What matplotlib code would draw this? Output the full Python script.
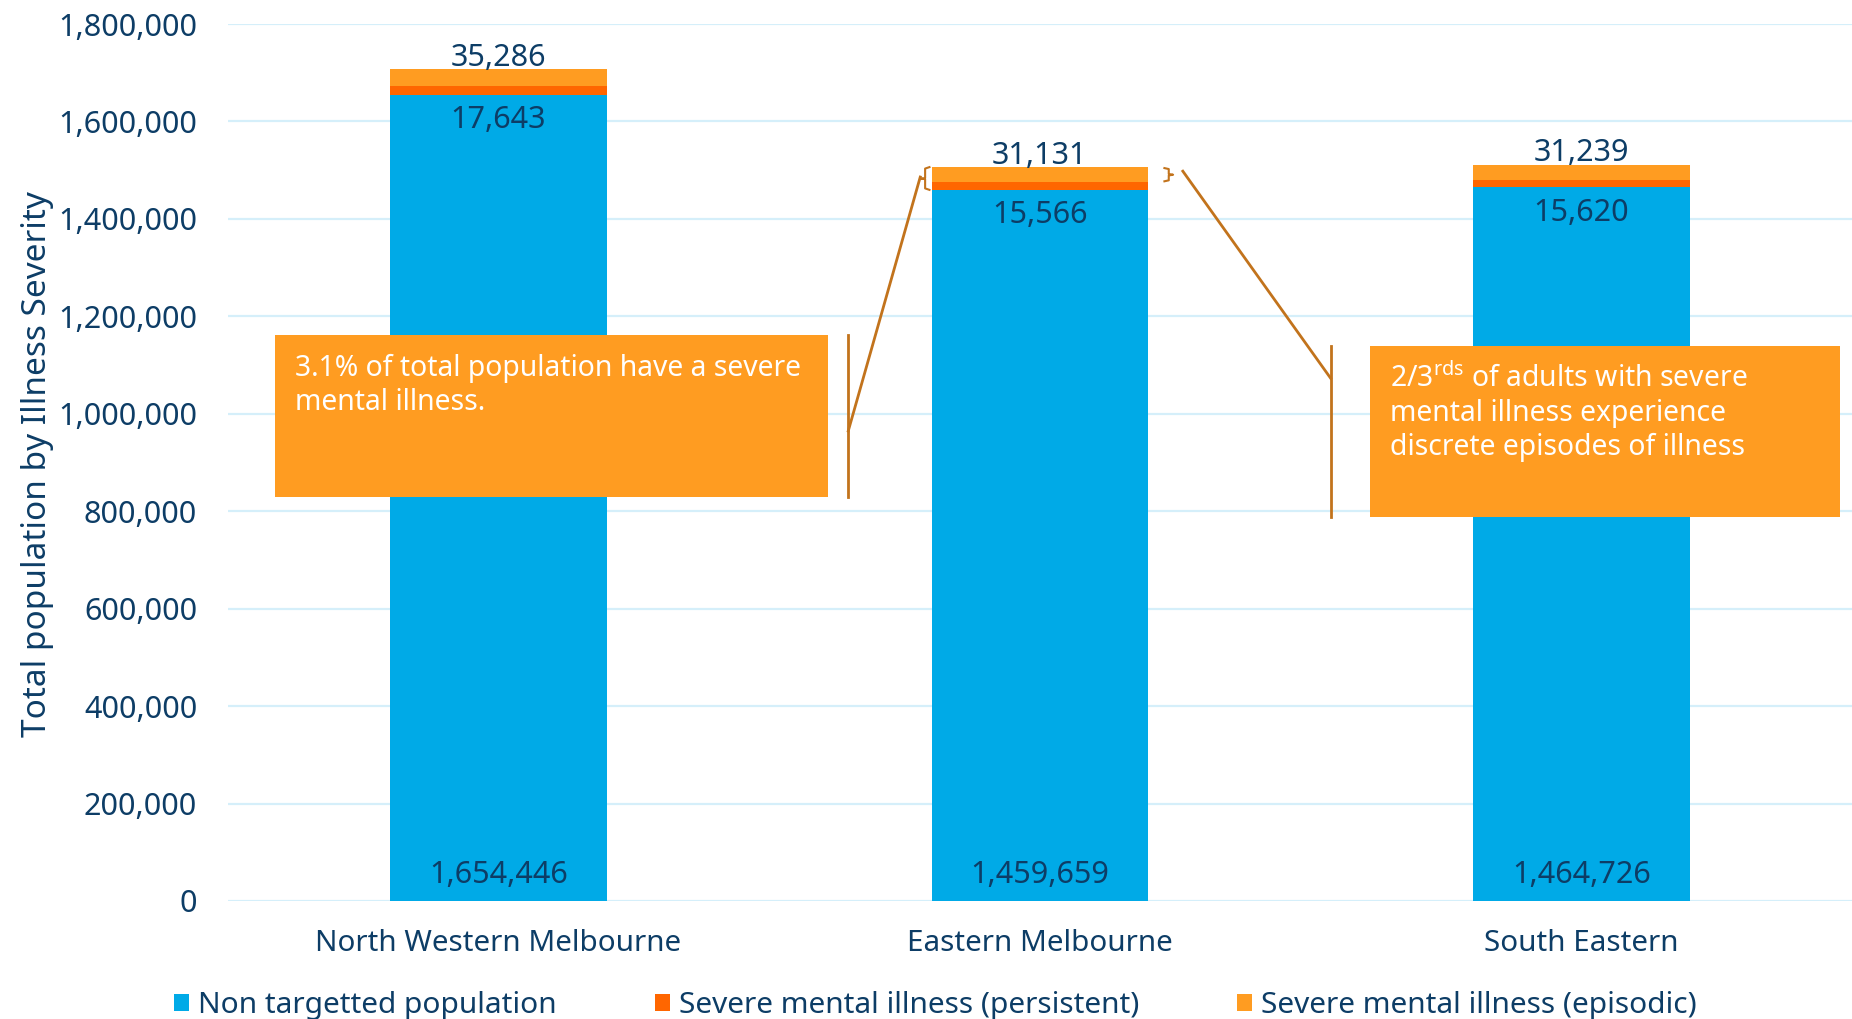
import matplotlib
matplotlib.use("Agg")
import matplotlib.pyplot as plt
from matplotlib.patches import Rectangle
import numpy as np

# data
regions = ["North Western Melbourne", "Eastern Melbourne", "South Eastern"]
non_targeted = [1654446, 1459659, 1464726]
persistent = [17643, 15566, 15620]
episodic = [35286, 31131, 31239]
yticks = [0, 200000, 400000, 600000, 800000, 1000000, 1200000, 1400000, 1600000, 1800000]

note_left = "3.1% of total population have a severe\nmental illness."
note_right = "2/3$^{\\mathrm{rds}}$ of adults with severe\nmental illness experience\ndiscrete episodes of illness"

# colours
BLUE = "#00AAE7"
PERS = "#FF6600"
EPIS = "#FF9C21"
NAVY = "#0D3D66"
GRID = "#D5EFFA"
LINK = "#C2731C"

plt.rcParams['font.family'] = ['Noto Sans', 'DejaVu Sans']
plt.rcParams['mathtext.fontset'] = 'custom'
plt.rcParams['mathtext.rm'] = 'Noto Sans'

fig = plt.figure(figsize=(18.52, 10.19), dpi=100)
ax = fig.add_axes([0.123, 0.1158, 0.877, 0.8606])

x = np.arange(len(regions))
w = 0.40
base = np.array(non_targeted)
mid = base + np.array(persistent)
top = mid + np.array(episodic)

b1 = ax.bar(x, non_targeted, w, color=BLUE, zorder=2, label="Non targetted population")
b2 = ax.bar(x, persistent, w, bottom=base, color=PERS, zorder=2, label="Severe mental illness (persistent)")
b3 = ax.bar(x, episodic, w, bottom=mid, color=EPIS, zorder=2, label="Severe mental illness (episodic)")

for i in range(len(x)):
    ax.text(x[i], 54000, f"{non_targeted[i]:,}", ha='center', va='center', fontsize=22, color=NAVY, zorder=3)
    ax.text(x[i], base[i] - 52000, f"{persistent[i]:,}", ha='center', va='center', fontsize=22, color=NAVY, zorder=3)
    ax.text(x[i], top[i] + 23000, f"{episodic[i]:,}", ha='center', va='center', fontsize=22, color=NAVY, zorder=3)

ax.set_xlim(-0.5, 2.5)
ax.set_ylim(0, 1800000)
ax.set_yticks(yticks)
ax.set_yticklabels([f"{v:,}" for v in yticks])
ax.set_xticks(x)
ax.set_xticklabels(regions)
ax.tick_params(axis='y', length=0, pad=22, labelsize=22, labelcolor=NAVY)
ax.tick_params(axis='x', length=0, pad=20.5, labelsize=21.3, labelcolor=NAVY)
ax.grid(axis='y', color=GRID, linewidth=1.6, zorder=0)
ax.set_axisbelow(True)
for s in ax.spines.values():
    s.set_visible(False)

fig.text(0.0200, 0.545, "Total population by Illness Severity", rotation=90,
         ha='center', va='center', fontsize=24, color=NAVY)

# callout boxes
ax.add_patch(Rectangle((-0.413, 829000), 1.022, 332700, facecolor=EPIS, edgecolor='none', zorder=4))
ax.text(-0.376, 1123000, note_left, ha='left', va='top', fontsize=20.4, color='white',
        linespacing=1.24, zorder=5)
ax.add_patch(Rectangle((1.609, 788000), 0.869, 351000, facecolor=EPIS, edgecolor='none', zorder=4))
ax.text(1.646, 1104000, note_right, ha='left', va='top', fontsize=20.4, color='white',
        linespacing=1.24, zorder=5)

# connector lines (left)
ax.plot([0.646, 0.646], [829000, 1161700], color=LINK, lw=2, zorder=3)
ax.plot([0.646, 0.779], [964700, 1486000], color=LINK, lw=2, zorder=3)
bl = x[1] - w / 2
ax.plot([bl - 0.004, bl - 0.012, bl - 0.012, bl - 0.02, bl - 0.012, bl - 0.012, bl - 0.004],
        [top[1], top[1] - 3000, base[1] + 24000, base[1] + 23000, base[1] + 22000, base[1] + 3000, base[1]],
        color=LINK, lw=1.5, zorder=3)
# connector lines (right)
ax.plot([1.537, 1.537], [788000, 1139000], color=LINK, lw=2, zorder=3)
ax.plot([1.537, 1.264], [1073000, 1498000], color=LINK, lw=2, zorder=3)
br = x[1] + w / 2 + 0.03
ax.plot([br, br + 0.008, br + 0.008, br + 0.016, br + 0.008, br + 0.008, br],
        [top[1] - 2000, top[1] - 4000, mid[1] + 17000, mid[1] + 15500, mid[1] + 14000, mid[1] + 4000, mid[1] + 2000],
        color=LINK, lw=1.5, zorder=3)

leg = fig.legend(handles=[b1, b2, b3], loc='center', bbox_to_anchor=(0.505, 0.013), ncol=3,
                 frameon=False, fontsize=21.5, handlelength=0.5, handleheight=0.5,
                 handletextpad=0.3, columnspacing=3.3, borderpad=0)
for t in leg.get_texts():
    t.set_color(NAVY)

fig.savefig("out.png", dpi=100)
